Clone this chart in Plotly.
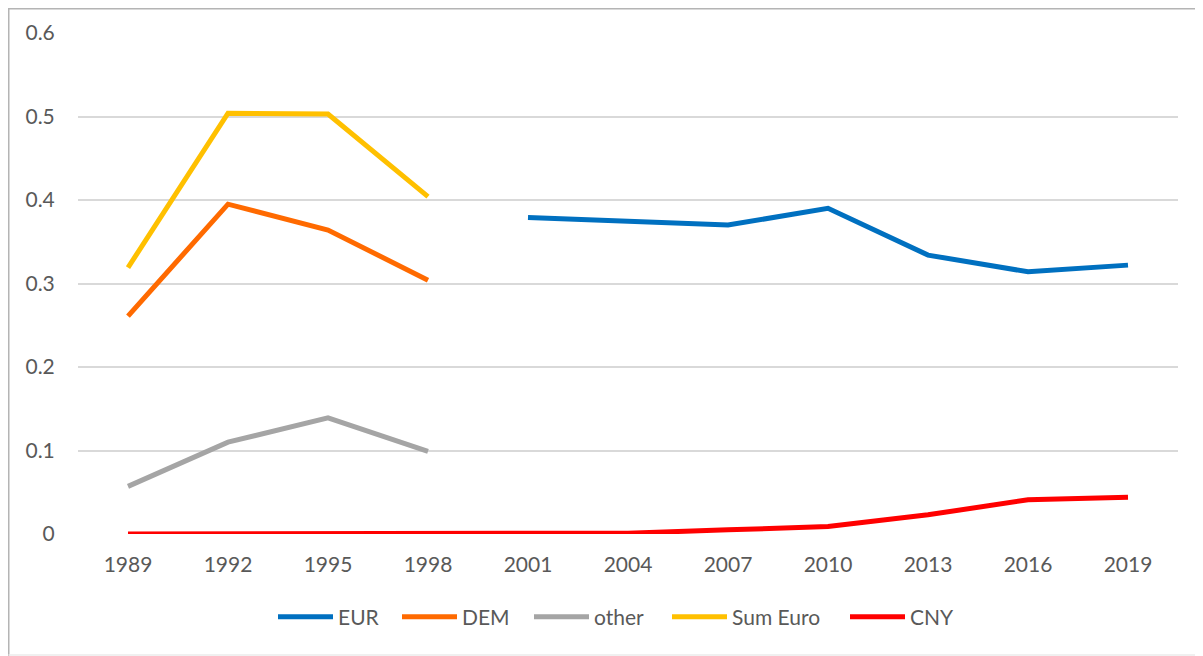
import plotly.graph_objects as go

years = ["1989", "1992", "1995", "1998", "2001", "2004", "2007", "2010", "2013", "2016", "2019"]
eur = [None, None, None, None, 0.379, 0.374, 0.370, 0.390, 0.334, 0.314, 0.322]
dem = [0.261, 0.395, 0.364, 0.304, None, None, None, None, None, None, None]
other = [0.057, 0.110, 0.139, 0.099, None, None, None, None, None, None, None]
sum_euro = [0.319, 0.504, 0.503, 0.404, None, None, None, None, None, None, None]
cny = [0.0, 0.0, 0.0, 0.0, 0.0, 0.001, 0.005, 0.009, 0.023, 0.041, 0.044]

series_names = ["EUR", "DEM", "other", "Sum Euro", "CNY"]
series_values = [eur, dem, other, sum_euro, cny]
series_colors = ["#0070C0", "#FF6A00", "#A5A5A5", "#FFC000", "#FF0000"]
# screen x where each legend swatch starts
legend_starts = [278, 402, 534, 672, 850]

font = dict(family="Lato, Open Sans, sans-serif", size=21, color="#595959")
W, H = 1203, 656
# the page body adds an 8px offset, so figure coords = screen coords - 8
L, R, T, B = 70, 33, 25, 130
pw, ph = W - L - R, H - T - B

fig = go.Figure()
legend_layouts = {}
for i, (name, vals, color) in enumerate(zip(series_names, series_values, series_colors)):
    key = "legend" if i == 0 else f"legend{i + 1}"
    fig.add_trace(go.Scatter(x=years, y=vals, name=name, mode="lines",
                             line=dict(color=color, width=5), connectgaps=False,
                             legend=key))
    legend_layouts[key] = dict(
        orientation="h", x=(legend_starts[i] - 8 - 5 - L) / pw, xanchor="left",
        y=(T + ph - 609) / ph, yanchor="middle",
        font=dict(family="Lato, Open Sans, sans-serif", size=21, color="#595959"),
        itemwidth=55, bgcolor="rgba(0,0,0,0)")

fig.update_layout(
    width=W, height=H,
    margin=dict(l=L, r=R, t=T, b=B, autoexpand=False),
    paper_bgcolor="white", plot_bgcolor="white",
    font=font,
    showlegend=True,
    xaxis=dict(type="category", range=[-0.5, 10.5], showgrid=False, zeroline=False,
               showline=False, automargin=False,
               ticks="outside", ticklen=12, tickcolor="rgba(0,0,0,0)",
               tickfont=font, fixedrange=True),
    yaxis=dict(range=[0, 0.6], tickvals=[0, 0.1, 0.2, 0.3, 0.4, 0.5, 0.6],
               ticktext=["0", "0.1", "0.2", "0.3", "0.4", "0.5", "0.6"],
               showgrid=True, gridcolor="#D9D9D9", gridwidth=1.5,
               zeroline=False, showline=False, automargin=False,
               ticks="outside", ticklen=18, tickcolor="rgba(0,0,0,0)",
               tickfont=font, fixedrange=True),
    shapes=[
        dict(type="line", xref="paper", yref="paper",
             x0=(0.5 - L) / pw, x1=(0.5 - L) / pw,
             y0=(T + ph - 660) / ph, y1=(T + ph) / ph + 1,
             line=dict(color="#B4B4B4", width=2), layer="below"),
        dict(type="line", xref="paper", yref="paper",
             x0=(0.5 - L) / pw, x1=(1220 - L) / pw,
             y0=(T + ph - 0.5) / ph, y1=(T + ph - 0.5) / ph,
             line=dict(color="#B4B4B4", width=2), layer="below"),
        dict(type="line", xref="paper", yref="paper",
             x0=(0.5 - L) / pw, x1=(1220 - L) / pw,
             y0=(T + ph - 647) / ph, y1=(T + ph - 647) / ph,
             line=dict(color="#EBEBEB", width=1.5), layer="below"),
    ],
    **legend_layouts,
)

fig.write_html("out.html")
